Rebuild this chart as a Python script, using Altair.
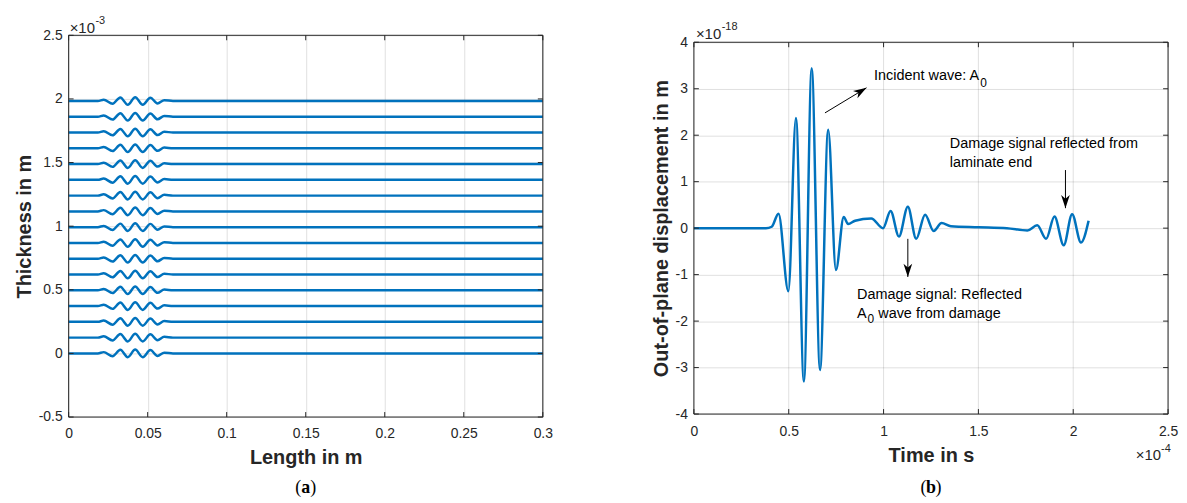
import math
import altair as alt
import pandas as pd

# ---------------- Panel (a): ply interfaces with wave packet ----------------
ply_levels = [0.000, 0.124, 0.248, 0.372, 0.496, 0.620, 0.744, 0.868, 0.992,
              1.116, 1.240, 1.364, 1.488, 1.612, 1.736, 1.860, 1.984]  # x 1e-3 m
packet_x = [0.0, 0.0185, 0.0222, 0.0278, 0.0327, 0.0374, 0.0421, 0.0469,
            0.0517, 0.0562, 0.0605, 0.0660, 0.3]
packet_dy = [0.0, 0.0, 0.010, -0.022, 0.028, -0.030, 0.030, -0.030,
             0.026, -0.020, 0.006, 0.0, 0.0]
a_xticks = [0, 0.05, 0.1, 0.15, 0.2, 0.25, 0.3]
a_yticks = [-0.5, 0, 0.5, 1, 1.5, 2, 2.5]

# ---------------- Panel (b): out-of-plane displacement signal ----------------
time_e4 = [0.00, 0.38, 0.41, 0.446, 0.498, 0.538, 0.580, 0.621, 0.665, 0.708,
           0.749, 0.790, 0.813, 0.850, 0.935, 0.997, 1.037, 1.081, 1.128, 1.172,
           1.219, 1.264, 1.306, 1.355, 1.500, 1.650, 1.758, 1.810, 1.857, 1.901,
           1.950, 1.994, 2.041, 2.081]
disp_e18 = [0.00, 0.00, 0.03, 0.31, -1.36, 2.37, -3.30, 3.44, -3.05, 2.12,
            -0.90, 0.24, 0.09, 0.16, 0.21, 0.00, 0.37, -0.18, 0.46, -0.23,
            0.29, -0.06, 0.11, 0.04, 0.02, 0.00, -0.05, 0.06, -0.23, 0.25,
            -0.37, 0.30, -0.31, 0.16]
b_xticks = [0, 0.5, 1, 1.5, 2, 2.5]
b_yticks = [-4, -3, -2, -1, 0, 1, 2, 3, 4]

arrow_x0 = [0.691, 1.959, 1.128]
arrow_y0 = [2.48, 1.25, -0.23]
arrow_x1 = [0.910, 1.959, 1.128]
arrow_y1 = [3.02, 0.43, -1.05]

note_text = ["Incident wave: A", "Damage signal reflected from", "laminate end",
             "Damage signal: Reflected", "A", "wave from damage"]
note_x = [0.950, 1.349, 1.349, 0.860, 0.860, 0.972]
note_y = [3.28, 1.82, 1.41, -1.44, -1.84, -1.84]
sub_text = ["0", "0"]
sub_x = [1.510, 0.915]
sub_y = [3.13, -1.95]

# ---------------- styling ----------------
BLUE = "#0072BD"
INK = "#262626"
FONT = "Liberation Sans"
SERIF = "Liberation Serif"
W = 477
HA = 384          # panel (a) plot height
HB = 381          # panel (b) view height
TOPB = 7          # panel (b) plot starts this far below panel (a) top
TICK = 5
ARROW = "M0,0 L0.33,1 L0,0.72 L-0.33,1 Z"
LAB = "'' + datum.value"


def inner_ticks(xvals, yvals, xs, ys, w, h, top=0):
    tx = pd.DataFrame({"x": xvals})
    ty = pd.DataFrame({"y": yvals})
    r = dict(color=INK, strokeWidth=1)
    return [
        alt.Chart(tx).mark_rule(**r).encode(x=alt.X("x:Q", scale=xs), y=alt.value(h), y2=alt.value(h - TICK)),
        alt.Chart(tx).mark_rule(**r).encode(x=alt.X("x:Q", scale=xs), y=alt.value(top), y2=alt.value(top + TICK)),
        alt.Chart(ty).mark_rule(**r).encode(y=alt.Y("y:Q", scale=ys), x=alt.value(0), x2=alt.value(TICK)),
        alt.Chart(ty).mark_rule(**r).encode(y=alt.Y("y:Q", scale=ys), x=alt.value(w), x2=alt.value(w - TICK)),
    ]


def frame(xd, yd, xs, ys):
    df = pd.DataFrame({"x": [xd[0]], "xe": [xd[1]], "y": [yd[0]], "ye": [yd[1]]})
    return alt.Chart(df).mark_rect(filled=False, stroke=INK, strokeWidth=1).encode(
        x=alt.X("x:Q", scale=xs), x2="xe:Q", y=alt.Y("y:Q", scale=ys), y2="ye:Q")


def caption(letter, w, y):
    base = alt.Chart(pd.DataFrame({"k": [0]}))
    common = dict(font=SERIF, fontSize=18, color="black", baseline="middle")
    return [
        base.mark_text(text=letter, fontWeight="bold", align="center", **common).encode(x=alt.value(w / 2), y=alt.value(y)),
        base.mark_text(text="(", align="right", dx=-4.6, **common).encode(x=alt.value(w / 2), y=alt.value(y)),
        base.mark_text(text=")", align="left", dx=4.6, **common).encode(x=alt.value(w / 2), y=alt.value(y)),
    ]


# ---------------- Panel (a) ----------------
xsa = alt.Scale(domain=[0, 0.3], nice=False, zero=False)
ysa = alt.Scale(domain=[-0.5, 2.5], nice=False, zero=False)
rows = []
for k, base in enumerate(ply_levels):
    for x, d in zip(packet_x, packet_dy):
        rows.append({"ply": k, "x": x, "y": base + d})
df_a = pd.DataFrame(rows)

lines_a = alt.Chart(df_a).mark_line(color=BLUE, strokeWidth=2.5, interpolate="monotone").encode(
    x=alt.X("x:Q", scale=xsa, axis=alt.Axis(values=a_xticks, labelExpr=LAB, title="Length in m",
                                              labelPadding=10, titlePadding=7, labelFlush=False)),
    y=alt.Y("y:Q", scale=ysa, axis=alt.Axis(values=a_yticks, labelExpr=LAB, title="Thickness in m",
                                              labelPadding=6.5, titlePadding=4)),
    detail="ply:N",
)

corner_a = alt.Chart(pd.DataFrame({"x": [0], "y": [2.5]}))
enc_a = dict(x=alt.X("x:Q", scale=xsa), y=alt.Y("y:Q", scale=ysa))
exp_a = [
    corner_a.mark_text(text="×10", align="left", baseline="middle", dx=1, dy=-7.5, font=FONT,
                       fontSize=15, color=INK).encode(**enc_a),
    corner_a.mark_text(text="-3", align="left", baseline="middle", dx=27, dy=-14, font=FONT,
                       fontSize=11, color=INK).encode(**enc_a),
]

left = alt.layer(lines_a, frame([0, 0.3], [-0.5, 2.5], xsa, ysa),
                 *inner_ticks(a_xticks, a_yticks, xsa, ysa, W, HA), *exp_a,
                 *caption("a", W, HA + 71)).properties(width=W, height=HA)

# ---------------- Panel (b) ----------------
xsb = alt.Scale(domain=[0, 2.5], nice=False, zero=False)
ysb = alt.Scale(domain=[-4, 4], nice=False, zero=False, range=[HB, TOPB])
df_b = pd.DataFrame({"x": time_e4, "y": disp_e18})

sig = alt.Chart(df_b).mark_line(color=BLUE, strokeWidth=2.5, interpolate="monotone").encode(
    x=alt.X("x:Q", scale=xsb, axis=alt.Axis(values=b_xticks, labelExpr=LAB, title="Time in s", grid=False,
                                              labelPadding=11, titlePadding=7, labelFlush=False)),
    y=alt.Y("y:Q", scale=ysb, axis=alt.Axis(values=b_yticks, labelExpr=LAB,
                                              title="Out-of-plane displacement in m",
                                              labelPadding=6.5, titlePadding=4)),
)

gx = pd.DataFrame({"x": b_xticks, "y": [-4] * len(b_xticks), "ye": [4] * len(b_xticks)})
grid_b = alt.Chart(gx).mark_rule(color=INK, opacity=0.15, strokeWidth=1).encode(
    x=alt.X("x:Q", scale=xsb), y=alt.Y("y:Q", scale=ysb), y2="ye:Q")

px_x = W / 2.5
px_y = (HB - TOPB) / 8.0
angles = []
for x0, y0, x1, y1 in zip(arrow_x0, arrow_y0, arrow_x1, arrow_y1):
    angles.append(math.degrees(math.atan2((x1 - x0) * px_x, (y1 - y0) * px_y)) % 360)
df_arr = pd.DataFrame({"x": arrow_x0, "y": arrow_y0, "xe": arrow_x1, "ye": arrow_y1, "ang": angles})

shafts = alt.Chart(df_arr).mark_rule(color="black", strokeWidth=1).encode(
    x=alt.X("x:Q", scale=xsb), y=alt.Y("y:Q", scale=ysb), x2="xe:Q", y2="ye:Q")
heads = alt.Chart(df_arr).mark_point(shape=ARROW, filled=True, color="black", opacity=1,
                                      size=700, strokeWidth=0).encode(
    x=alt.X("xe:Q", scale=xsb), y=alt.Y("ye:Q", scale=ysb), angle=alt.Angle("ang:Q", scale=None))

notes = alt.Chart(pd.DataFrame({"x": note_x, "y": note_y, "t": note_text})).mark_text(
    align="left", baseline="middle", font=FONT, fontSize=14.5, color="black").encode(
    x=alt.X("x:Q", scale=xsb), y=alt.Y("y:Q", scale=ysb), text="t:N")
subs = alt.Chart(pd.DataFrame({"x": sub_x, "y": sub_y, "t": sub_text})).mark_text(
    align="left", baseline="middle", font=FONT, fontSize=12, color="black").encode(
    x=alt.X("x:Q", scale=xsb), y=alt.Y("y:Q", scale=ysb), text="t:N")

top_b = alt.Chart(pd.DataFrame({"x": [0], "y": [4]}))
bot_b = alt.Chart(pd.DataFrame({"x": [2.5], "y": [-4]}))
enc_b = dict(x=alt.X("x:Q", scale=xsb), y=alt.Y("y:Q", scale=ysb))
exp_b = [
    top_b.mark_text(text="×10", align="left", baseline="middle", dx=2, dy=-8.3, font=FONT,
                    fontSize=15, color=INK).encode(**enc_b),
    top_b.mark_text(text="-18", align="left", baseline="middle", dx=28, dy=-15, font=FONT,
                    fontSize=11, color=INK).encode(**enc_b),
    bot_b.mark_text(text="×10", align="right", baseline="middle", dx=-7, dy=41, font=FONT,
                    fontSize=15, color=INK).encode(**enc_b),
    bot_b.mark_text(text="-4", align="left", baseline="middle", dx=-7, dy=35, font=FONT,
                    fontSize=11, color=INK).encode(**enc_b),
]

right = alt.layer(grid_b, sig, frame([0, 2.5], [-4, 4], xsb, ysb), shafts, heads, notes, subs,
                  *inner_ticks(b_xticks, b_yticks, xsb, ysb, W, HB, top=TOPB),
                  *exp_b, *caption("b", W, HB + 74)).properties(width=W, height=HB)

chart = alt.hconcat(left, right, spacing=97).properties(
    padding={"left": 5, "top": 5, "right": 0, "bottom": 0},
    background="white",
).configure_view(stroke="transparent").configure_axis(
    labelFont=FONT, labelFontSize=14, labelColor=INK,
    titleFont=FONT, titleFontSize=20, titleFontWeight="bold", titleColor=INK,
    grid=True, gridColor=INK, gridOpacity=0.15, gridWidth=1,
    domain=False, ticks=False,
)

chart.save("out.html", embed_options={"renderer": "svg", "actions": False})
